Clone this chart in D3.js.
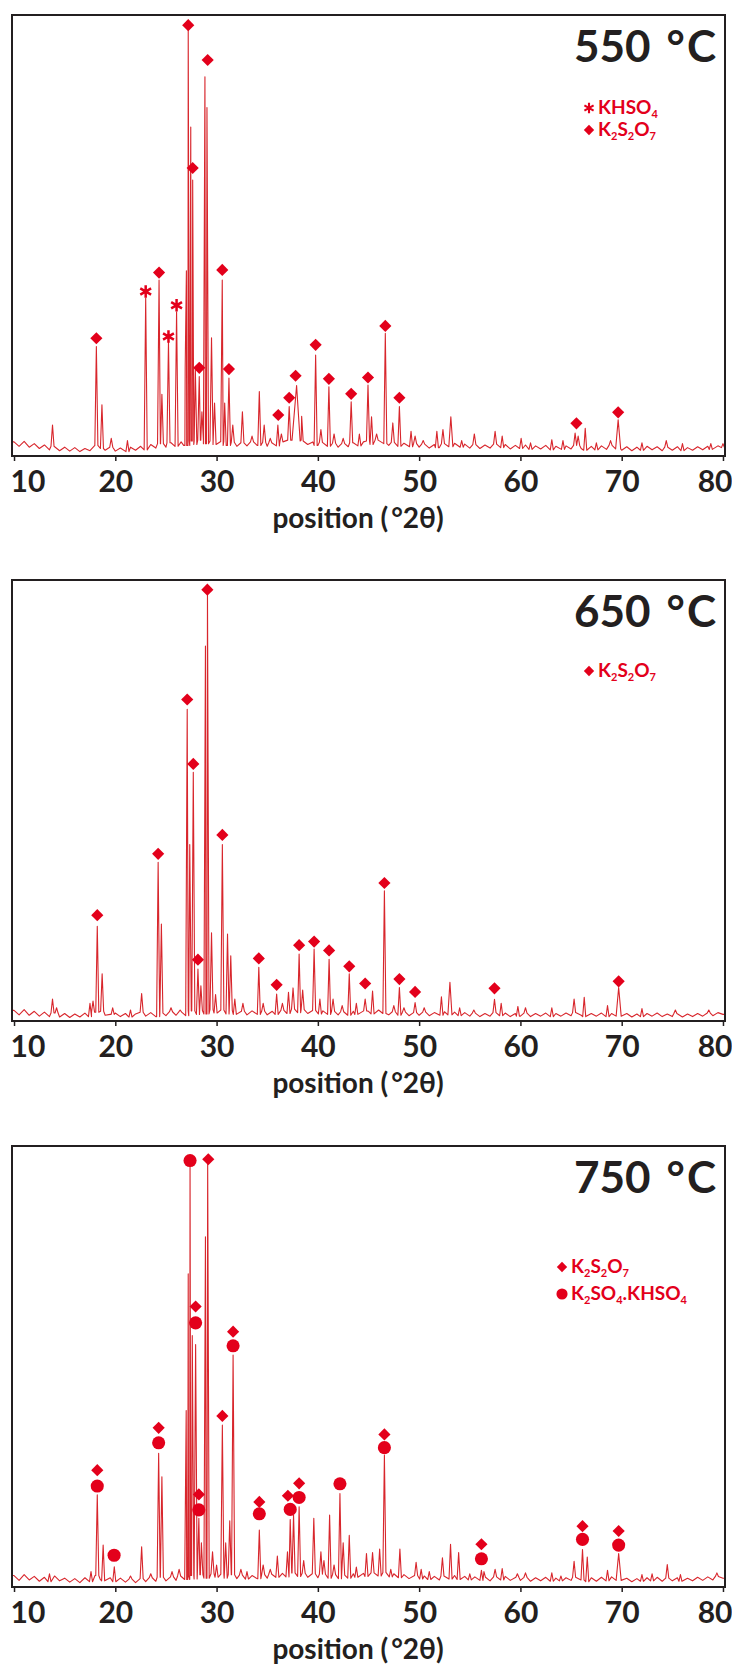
<!DOCTYPE html>
<html>
<head>
<meta charset="utf-8">
<script src="https://cdn.jsdelivr.net/npm/d3@7"></script>
<style>
  body { margin: 0; background: #fff; }
  text { font-family: Lato, "Open Sans", sans-serif; font-weight: 700; }
</style>
</head>
<body>
<div class="chart"></div>
<script>
// ---- values (2theta in degrees, intensity 0-100) ----
const tickValues = [10, 20, 30, 40, 50, 60, 70, 80];
const titles = ["550", "650", "750"];
const axisTitle = "position (°2θ)";

// baseline noise, one value every 0.5 deg from 10 to 80
const baseStart = 10, baseStep = 0.5;
const base550 = [3.2,2.2,3.3,2.0,2.8,1.7,2.5,1.4,2.2,1.2, 2.0,1.1,1.9,1.0,1.7,1.2,2.4,1.7,1.3,2.0,
  1.1,1.8,1.0,2.0,1.3,2.2,1.4,2.6,1.8,2.8, 2.0,3.0,2.2,3.2,2.4,3.4,2.6,3.6,2.8,3.4,
  2.6,3.3,2.4,3.1,2.2,3.0,2.3,3.2,2.4,3.1, 2.2,3.0,2.3,3.2,3.6,4.4,3.6,3.4,2.6,3.2,
  2.4,3.1,2.2,2.9,2.0,2.8,2.1,3.0,2.3,3.2, 3.4,2.6,3.6,2.8,2.4,3.1,2.2,2.9,2.1,2.8,
  2.0,2.7,1.8,2.6,1.9,2.8,2.1,2.9,2.0,2.7, 1.8,2.6,1.7,2.5,1.8,2.7,1.9,2.6,1.6,2.4,
  1.7,2.5,1.5,2.3,1.6,2.4,1.4,2.2,1.5,2.3, 1.6,2.4,1.7,1.3,2.2,1.4,2.3,1.5,2.4,1.6,
  1.3,2.1,1.2,2.0,1.3,2.2,1.4,2.1,1.2,2.0, 1.3,2.1,1.2,1.9,1.3,2.1,1.4,2.2,1.5,2.3, 1.9];
const base650 = [2.4,1.4,2.6,1.3,2.2,1.1,2.0,1.0,1.8,0.9, 1.7,0.8,1.6,0.9,1.8,1.0,2.0,2.2,1.3,1.5,
  1.8,1.0,1.7,0.9,1.6,2.0,1.1,1.9,1.0,1.8, 1.2,2.1,1.3,2.0,1.2,2.3,1.5,2.4,1.6,2.6,
  1.8,2.5,1.6,2.4,1.5,2.2,1.4,2.3,1.5,2.2, 1.4,2.2,1.5,2.4,1.7,2.7,1.9,2.6,1.7,2.4,
  1.6,2.3,1.5,2.2,1.4,2.1,1.3,2.2,1.5,2.3, 2.2,1.6,2.5,1.7,1.4,2.1,1.3,2.0,1.2,1.9,
  1.3,2.0,1.2,1.9,1.3,2.1,1.4,2.0,1.2,1.9, 1.1,1.8,1.0,1.7,1.1,1.9,1.2,1.8,1.0,1.7,
  1.1,1.8,1.0,1.7,1.1,1.8,1.0,1.7,1.1,1.8, 1.2,1.9,1.3,1.0,1.7,1.1,1.8,1.0,1.7,1.1,
  1.0,1.7,0.9,1.6,1.0,1.7,1.1,1.8,1.0,1.6, 1.0,1.7,0.9,1.6,1.0,1.7,1.1,1.8,1.2,1.9, 1.5];
const base750 = [2.6,1.5,2.8,1.6,2.4,1.3,2.2,1.2,2.5,1.4, 2.0,1.1,1.9,1.0,2.1,1.2,2.6,1.8,1.4,2.1,
  1.2,2.0,1.1,1.8,1.0,1.9,1.2,2.1,1.3,2.2, 1.4,2.3,1.5,2.5,1.7,2.6,1.8,2.8,2.0,3.0,
  2.2,2.9,2.0,2.8,1.9,2.7,1.8,2.6,1.9,2.8, 2.0,2.9,2.2,3.1,2.3,3.2,2.4,3.1,2.2,3.0,
  2.1,2.9,2.0,2.8,1.9,2.7,2.0,3.0,2.2,3.1, 2.4,3.2,2.5,3.3,2.3,3.0,2.1,2.8,1.9,2.6,
  1.8,2.5,1.7,2.4,1.6,2.5,1.8,2.6,1.7,2.4, 1.6,2.3,1.5,2.2,1.4,2.3,1.6,2.4,1.5,2.2,
  1.5,2.2,1.3,2.1,1.4,2.2,1.3,2.0,1.4,2.1, 1.5,2.2,1.6,1.2,2.1,1.3,2.2,1.4,2.3,1.5,
  1.3,2.0,1.2,1.9,1.3,2.1,1.4,2.2,1.3,2.0, 1.4,2.1,1.3,2.0,1.4,2.2,1.5,2.3,1.6,2.4, 2.0];

// peaks: [2theta, intensity, optional half width]
const peaks550 = [[13.8,7.0],[18.13,24.8],[18.68,11.6],[19.6,4.0],[21.2,3.5],[23.0,35.8],[24.32,39.9],[24.6,14],
  [25.25,25.9],[26.05,32.7],[26.9,20],[27.02,42],[27.2,96.6],[27.45,74.6],[27.64,62.6],[27.9,20],[28.29,18],
  [28.55,10],[28.85,86],[29.05,79],[29.5,26.8],[29.8,12],[30.56,39.9],[30.8,12],[31.22,17.7],[31.6,7],[32.55,10],
  [33.5,4.5],[34.22,14.6],[34.7,7],[35.3,4],[36.05,7],[36.4,5],[37.17,11.2],[37.9,16,0.45],[38.4,9],[39.78,22.9],
  [40.3,6],[41.09,15.7],[41.6,5],[42.5,4],[43.29,12.3],[44.1,5],[44.95,16.1],[45.3,8.9],[45.8,5],[46.66,27.8],
  [47.4,7.5],[48.05,11.2],[49.2,5.6],[49.6,4.5],[50.4,3.5],[51.75,5.6],[52.35,6],[53.13,8.9,0.2],[54.2,3.5],
  [55.45,5],[57.5,5.6],[58.2,4.5],[60.07,4],[61.0,3],[63.1,3.7],[64.2,3.5],[65.4,5.2],[65.7,4.5],[66.4,6.3],
  [67.5,3],[68.9,3.5],[69.65,8.2,0.25],[72.0,3],[74.4,3.5],[76.0,2.8],[78.8,2.8],[80.0,2.8]];
const peaks650 = [[13.8,5],[14.2,3],[17.5,4],[17.8,4.5],[18.22,21.5],[18.7,10.7],[19.74,3],[21.5,2.5],[22.6,6.2],
  [24.23,36],[24.55,22],[25.5,3],[26.4,2.5],[27.1,70.7],[27.35,40],[27.7,56.4],[28.16,11.8],[28.45,8],[28.9,85],
  [29.1,97.3],[29.5,20],[29.9,6],[30.57,40],[31.08,19.7],[31.4,14.8],[31.8,5],[32.6,4],[34.17,12.2],[34.6,4],
  [35.93,6.1],[36.5,4],[37.1,6.5],[37.55,7.5],[38.15,15.2],[38.5,7],[39.63,16.3],[40.2,5],[41.11,14],[41.5,5],
  [42.4,3.5],[43.1,10.7],[43.8,4],[44.67,5],[45.4,6.8],[46.57,29.5],[47.5,3.5],[48.05,7.6],[48.5,3],[49.6,4.2],
  [50.5,3],[52.2,5.5],[53.04,8.8,0.2],[54.0,3],[55.4,2.5],[57.44,4.9],[58.1,4],[59.75,3.3],[60.5,3],[63.1,3],
  [65.3,5],[66.3,5.4],[68.6,3.5],[69.7,7.6,0.25],[72.0,2.8],[75.3,2.5],[78.6,2.5]];
const peaks750 = [[13.5,3],[17.6,3.5],[18.22,20.9],[18.8,9.5],[19.9,4.6],[21.5,2.5],[22.6,9.1],[23.5,3],[24.28,30.3],
  [24.6,25],[25.6,3.5],[26.3,4],[27.0,40],[27.2,71],[27.38,96.8],[27.6,57],[27.93,55],[28.25,15.6],[28.5,10],
  [28.9,79.4],[29.12,96],[29.6,8],[30.0,5],[30.57,36.7],[30.9,10],[31.3,15],[31.63,52.6],[32.4,4],[33.0,3.5],
  [34.22,12.9],[34.6,5],[35.3,4],[36.0,7],[37.0,8],[37.27,15.3],[37.6,16.3],[38.15,18.2],[38.6,6],[39.6,15.6],
  [40.3,8],[40.6,6],[41.16,16.3],[41.6,5],[42.18,21.2],[42.5,10],[43.1,11.7],[43.8,4.5],[44.8,7.6],[45.4,7.8],
  [46.1,8.6],[46.57,29.9],[47.2,4],[48.1,8.6],[49.7,5.6],[50.2,4],[51.0,3.5],[52.3,6.6],[53.1,9.7],[53.9,7.8],
  [55.0,3],[56.15,3.8],[56.4,3.5],[57.5,4],[58.2,4.2],[59.7,3],[60.5,3.2],[63.1,3.2],[64.0,2.5],[65.3,5.8],
  [66.13,8.5],[66.6,6.8],[68.6,3.8],[69.7,7.6,0.25],[72.0,2.8],[73.0,3],[74.5,5.1],[75.8,2.8],[79.4,3.2]];

// phase markers: [2theta, level of marker centre]
const diamonds550 = [[18.13,26.7],[24.32,41.6],[27.2,97.7],[27.64,65.3],[28.29,20],[29.12,89.8],[30.56,42.2],
  [31.22,19.7],[36.09,9.3],[37.17,13.2],[37.8,18.2],[39.78,25.2],[41.09,17.5],[43.29,14.1],[44.95,17.8],
  [46.66,29.5],[48.05,13.2],[65.53,7.4],[69.65,9.9]];
const stars550 = [[23.0,37.3],[25.25,27.1],[26.05,34.2]];
const diamonds650 = [[18.22,24],[24.23,37.9],[27.1,72.9],[27.7,58.3],[28.16,13.9],[29.09,97.8],[30.57,42.2],
  [34.17,14.2],[35.93,8.2],[38.15,17.2],[39.63,18],[41.11,16],[43.1,12.4],[44.67,8.5],[46.57,31.3],[48.05,9.5],
  [49.6,6.6],[57.44,7.4],[69.7,9]];
const diamonds750 = [[18.22,26.5],[24.28,36.1],[27.93,63.6],[28.25,21],[29.18,97],[30.57,38.8],[31.63,57.9],
  [34.22,19.3],[37.04,20.7],[38.15,23.5],[46.57,34.6],[56.15,9.7],[66.13,13.8],[69.7,12.7]];
const circles750 = [[18.22,22.9],[19.88,7.2],[24.28,32.7],[27.38,96.7],[27.93,59.9],[28.25,17.5],[31.63,54.7],
  [34.22,16.6],[37.27,17.6],[38.15,20.3],[42.18,23.4],[46.57,31.6],[56.15,6.4],[66.13,10.8],[69.7,9.5]];

// legend labels as [text, isSubscript]
const lblKHSO4 = [["KHSO",0],["4",1]];
const lblK2S2O7 = [["K",0],["2",1],["S",0],["2",1],["O",0],["7",1]];
const lblDouble = [["K",0],["2",1],["SO",0],["4",1],[".KHSO",0],["4",1]];

// ---- layout ----
const W = 732, H = 1669;
const frameL = 12, frameR = 725, plotH = 441;
const red = "#d8262c", markRed = "#e3001b", ink = "#231f20";

const panels = [
  {title: titles[0], top: 15, base: base550, peaks: peaks550,
   marks: [["diamond", diamonds550], ["asterisk", stars550]],
   legend: {sx: 589, tx: 598, y: 99, gap: 22, rows: [["asterisk", lblKHSO4], ["diamond", lblK2S2O7]]}},
  {title: titles[1], top: 580, base: base650, peaks: peaks650,
   marks: [["diamond", diamonds650]],
   legend: {sx: 589, tx: 598, y: 97, gap: 22, rows: [["diamond", lblK2S2O7]]}},
  {title: titles[2], top: 1146, base: base750, peaks: peaks750,
   marks: [["diamond", diamonds750], ["circle", circles750]],
   legend: {sx: 562, tx: 571, y: 127, gap: 27, rows: [["diamond", lblK2S2O7], ["circle", lblDouble]]}}
];

const svg = d3.select(".chart").append("svg")
    .attr("width", W)
    .attr("height", H);

const x = d3.scaleLinear().domain([9.8, 80.2]).range([frameL, frameR]);

const symbolGen = {
  diamond: d3.symbol(d3.symbolSquare, 74),
  circle: d3.symbol(d3.symbolCircle, 135),
  asterisk: d3.symbol(d3.symbolAsterisk, 110)
};

function addMark(g, shape, cx, cy, scale) {
  const p = g.append("path")
      .attr("d", symbolGen[shape]())
      .attr("transform", "translate(" + cx + "," + cy + ") scale(" + scale + ")" + (shape == "diamond" ? " rotate(45)" : ""));
  if (shape == "asterisk") p.attr("fill", "none").attr("stroke", markRed).attr("stroke-width", 2.5);
  else p.attr("fill", markRed);
}

// build the trace: baseline samples plus a narrow spike for every peak
function tracePoints(peaks, base) {
  const baseAt = d => base[Math.max(0, Math.min(base.length - 1, Math.round((d - baseStart) / baseStep)))];
  const pts = [];
  base.forEach((v, i) => {
    const d = baseStart + i * baseStep;
    if (!peaks.some(p => Math.abs(d - p[0]) < (p[2] || 0.15) + 0.06)) pts.push([d, v]);
  });
  peaks.forEach(p => {
    const w = p[2] || 0.15, b = baseAt(p[0]);
    pts.push([p[0] - w, b], [p[0], p[1]], [p[0] + w, b]);
  });
  pts.push([x.domain()[0], base[0]], [x.domain()[1], base[base.length - 1]]);
  return pts.sort((a, b) => a[0] - b[0]);
}

panels.forEach((pn, k) => {
  const top = pn.top, bottom = top + plotH;
  const y = d3.scaleLinear().domain([0, 100]).range([bottom, top]);
  const g = svg.append("g");

  g.append("clipPath").attr("id", "clip" + k)
    .append("rect").attr("x", frameL).attr("y", top - 10).attr("width", frameR - frameL).attr("height", plotH + 10);

  const line = d3.line().x(d => x(d[0])).y(d => y(d[1]));
  g.append("path")
      .datum(tracePoints(pn.peaks, pn.base))
      .attr("clip-path", "url(#clip" + k + ")")
      .attr("d", line)
      .attr("fill", "none")
      .attr("stroke", red)
      .attr("stroke-width", 1.1)
      .attr("stroke-linejoin", "round");

  // markers
  pn.marks.forEach(([shape, pts]) => {
    pts.forEach(d => addMark(g, shape, x(d[0]), y(d[1]), 1));
  });

  // frame
  g.append("rect")
      .attr("x", frameL).attr("y", top)
      .attr("width", frameR - frameL).attr("height", plotH)
      .attr("fill", "none").attr("stroke", ink).attr("stroke-width", 2);

  // x axis
  const ax = g.append("g")
      .attr("transform", "translate(0," + bottom + ")")
      .call(d3.axisBottom(x).tickValues(tickValues).tickSize(5).tickFormat(d3.format("d")));
  ax.select(".domain").remove();
  ax.selectAll(".tick line").attr("stroke", ink).attr("stroke-width", 1.5);
  ax.selectAll(".tick text")
      .attr("y", 36).attr("dy", 0)
      .attr("fill", ink)
      .style("font-size", "30px")
      .attr("text-anchor", (d, i) => i == 0 ? "start" : (i == tickValues.length - 1 ? "end" : "middle"))
      .attr("dx", (d, i) => i == 0 ? -4 : (i == tickValues.length - 1 ? 9 : 0));

  const at = g.append("text")
      .attr("x", 358).attr("y", bottom + 72)
      .attr("text-anchor", "middle")
      .attr("fill", ink)
      .style("font-size", "28px");
  at.append("tspan").text("position (");
  at.append("tspan").attr("dx", 3).text("°2θ)");

  // temperature title, with the wide gap before the degree ring
  const tt = g.append("text")
      .attr("x", 716).attr("y", top + 47)
      .attr("text-anchor", "end")
      .attr("fill", ink)
      .style("font-size", "44px");
  tt.append("tspan").text(pn.title);
  tt.append("tspan").attr("dx", 16).text("°");
  tt.append("tspan").attr("dx", 2).text("C");

  // legend
  const lg = pn.legend;
  lg.rows.forEach(([shape, parts], i) => {
    const by = top + lg.y + i * lg.gap;
    addMark(g, shape, lg.sx, by - 6, 0.85);
    const t = g.append("text")
        .attr("x", lg.tx).attr("y", by)
        .attr("fill", markRed)
        .style("font-size", "19px");
    let shifted = false;
    parts.forEach(([s, sub]) => {
      const ts = t.append("tspan").text(s);
      if (sub && !shifted) { ts.attr("dy", 4).style("font-size", "11px"); shifted = true; }
      else if (sub) { ts.style("font-size", "11px"); }
      else if (shifted) { ts.attr("dy", -4); shifted = false; }
    });
  });
});
</script>
</body>
</html>
